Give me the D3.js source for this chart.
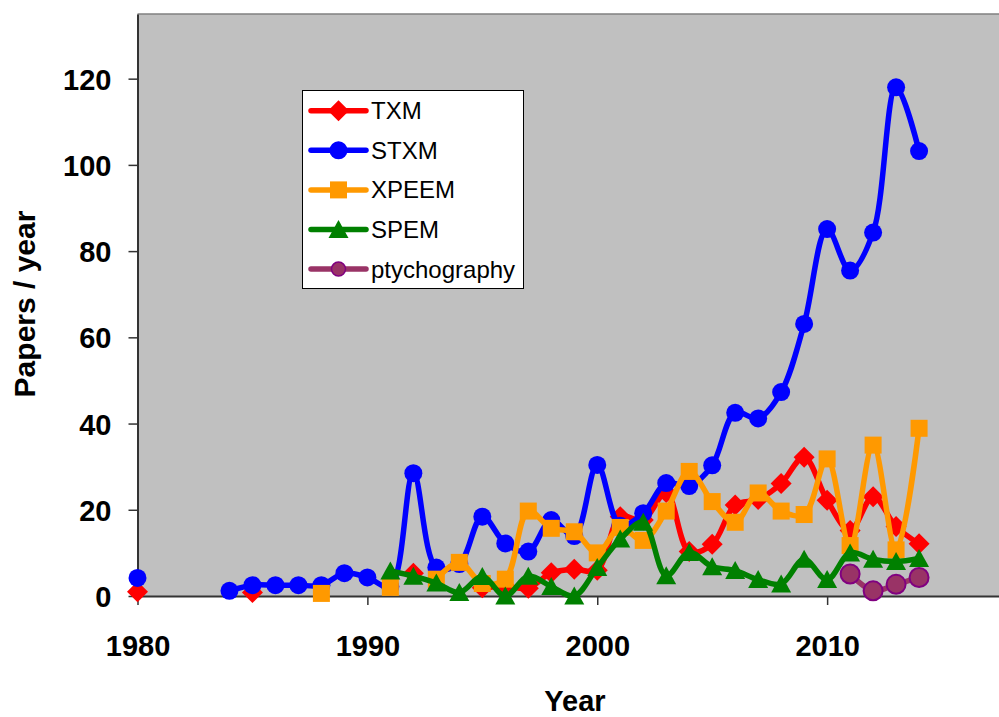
<!DOCTYPE html>
<html>
<head>
<meta charset="utf-8">
<script src="https://cdn.jsdelivr.net/npm/d3@7"></script>
<style>
  html, body { margin: 0; padding: 0; background: #ffffff; }
  svg { display: block; font-family: "Liberation Sans", Arial, sans-serif; }
</style>
</head>
<body>
<svg id="chart" width="999" height="717"></svg>
<script>
// ---------------- data ----------------
const years = d3.range(1980, 2015);
const xTicks = [1980, 1990, 2000, 2010];
const yTicks = [0, 20, 40, 60, 80, 100, 120];
const seriesNames = ["TXM", "STXM", "XPEEM", "SPEM", "ptychography"];

// values per year 1980..2014 (null = no point)
const txm = [1.0, null, null, null, null, 0.8, null, null, null, null,
             null, null, 5.3, null, null, 1.9, 2.2, 1.8, 5.4, 6.2,
             6.0, 18.4, 17.6, 24.0, 10.3, 12.0, 21.1, 22.4, 26.1, 32.2,
             22.2, 15.2, 23.0, 16.1, 12.1];
const stxm = [4.2, null, null, null, 1.2, 2.5, 2.5, 2.5, 2.5, 5.3,
              4.3, 2.2, 28.5, 6.6, 7.4, 18.4, 12.2, 10.3, 17.6, 13.9,
              30.4, 16.3, 19.2, 26.2, 25.5, 30.3, 42.5, 41.2, 47.3, 63.1,
              85.1, 75.5, 84.3, 118.0, 103.2];
const xpeem = [null, null, null, null, null, null, null, null, 0.6, null,
               null, 2.0, null, 3.9, 7.8, 2.9, 3.9, 19.7, 15.7, 14.9,
               10.0, 15.9, 12.9, 19.7, 28.9, 21.9, 17.1, 23.9, 19.7, 18.9,
               31.8, 11.7, 35.0, 10.7, 38.9];
const spem = [null, null, null, null, null, null, null, null, null, null,
              null, 5.8, 4.6, 3.0, 0.8, 4.5, 0.0, 4.6, 2.2, 0.0,
              6.6, 13.2, 17.1, 4.7, 10.1, 6.8, 5.9, 3.8, 2.8, 8.5,
              3.8, 10.0, 8.5, 8.0, 8.7];
const ptycho = [null, null, null, null, null, null, null, null, null, null,
                null, null, null, null, null, null, null, null, null, null,
                null, null, null, null, null, null, null, null, null, null,
                null, 5.1, 1.2, 2.7, 4.3];

// ---------------- styles ----------------
const styles = [
  { values: txm,    color: "#ff0000", fill: "#ff0000", stroke: "none",    marker: "diamond" },
  { values: stxm,   color: "#0000ff", fill: "#0000ff", stroke: "none",    marker: "circle" },
  { values: xpeem,  color: "#ff9900", fill: "#ff9900", stroke: "none",    marker: "square" },
  { values: spem,   color: "#008000", fill: "#008000", stroke: "none",    marker: "triangle" },
  { values: ptycho, color: "#993366", fill: "#993366", stroke: "#800080", marker: "bigcircle" }
];

const svg = d3.select("#chart");
const plot = { left: 137.5, top: 14, bottom: 596, right: 1057 };

const x = d3.scaleLinear().domain([1980, 2020]).range([plot.left, plot.right]);
const y = d3.scaleLinear().domain([0, 135]).range([plot.bottom, plot.top]);

// plot background
svg.append("rect")
  .attr("x", plot.left).attr("y", plot.top)
  .attr("width", plot.right - plot.left).attr("height", plot.bottom - plot.top)
  .attr("fill", "#c0c0c0");
svg.append("line")
  .attr("x1", plot.left).attr("x2", plot.right)
  .attr("y1", plot.top).attr("y2", plot.top)
  .attr("stroke", "#808080").attr("stroke-width", 1.5);

// axes
const xAxis = svg.append("g")
  .attr("transform", `translate(0,${plot.bottom})`)
  .call(d3.axisBottom(x).tickValues(xTicks).tickFormat(d3.format("d")).tickSize(9).tickSizeOuter(0));
const yAxis = svg.append("g")
  .attr("transform", `translate(${plot.left},0)`)
  .call(d3.axisLeft(y).tickValues(yTicks).tickSize(9).tickSizeOuter(0));

[xAxis, yAxis].forEach(g => {
  g.select(".domain").attr("stroke", "#333333").attr("stroke-width", 2);
  g.selectAll(".tick line").attr("stroke", "#333333").attr("stroke-width", 1.5);
  g.selectAll(".tick text")
    .attr("fill", "#000")
    .style("font-family", '"Liberation Sans", Arial, sans-serif')
    .style("font-size", "29px")
    .style("font-weight", "bold");
});
xAxis.selectAll(".tick text").attr("y", 60).attr("dy", "0");
yAxis.selectAll(".tick text").attr("x", -26).attr("dy", "0.36em");

// axis titles
svg.append("text")
  .attr("x", 575).attr("y", 711)
  .attr("text-anchor", "middle")
  .style("font-size", "29px").style("font-weight", "bold")
  .text("Year");
svg.append("text")
  .attr("transform", "translate(35,304) rotate(-90)")
  .attr("text-anchor", "middle")
  .style("font-size", "30px").style("font-weight", "bold")
  .text("Papers / year");

// marker drawing
function drawMarker(sel, type, fill, stroke) {
  if (type === "circle") {
    sel.append("circle").attr("r", 9).attr("fill", fill);
  } else if (type === "bigcircle") {
    sel.append("circle").attr("r", 9.5).attr("fill", fill)
      .attr("stroke", stroke).attr("stroke-width", 2);
  } else if (type === "diamond") {
    sel.append("path").attr("d", "M0,-10.5L10.5,0L0,10.5L-10.5,0Z").attr("fill", fill);
  } else if (type === "square") {
    sel.append("rect").attr("x", -8.5).attr("y", -8.5).attr("width", 17).attr("height", 17).attr("fill", fill);
  } else if (type === "triangle") {
    sel.append("path").attr("d", "M0,-9.5L10,8.5L-10,8.5Z").attr("fill", fill);
  }
}

const line = d3.line()
  .defined(d => d.v !== null)
  .x(d => x(d.year))
  .y(d => y(d.v))
  .curve(d3.curveCatmullRom.alpha(0.5));

styles.forEach(s => {
  const pts = years.map((yr, i) => ({ year: yr, v: s.values[i] }));
  const g = svg.append("g");
  g.append("path")
    .datum(pts)
    .attr("d", line)
    .attr("fill", "none")
    .attr("stroke", s.color)
    .attr("stroke-width", 5.5)
    .attr("stroke-linejoin", "round")
    .attr("stroke-linecap", "round");
  const m = g.selectAll("g.m")
    .data(pts.filter(d => d.v !== null))
    .join("g")
    .attr("class", "m")
    .attr("transform", d => `translate(${x(d.year)},${y(d.v)})`);
  m.each(function () { drawMarker(d3.select(this), s.marker, s.fill, s.stroke); });
});

// legend
const legend = svg.append("g");
legend.append("rect")
  .attr("x", 302.5).attr("y", 90.5).attr("width", 221).attr("height", 198)
  .attr("fill", "#ffffff").attr("stroke", "#000000").attr("stroke-width", 1);
seriesNames.forEach((name, i) => {
  const s = styles[i];
  const cy = 110.7 + i * 39.6;
  const item = legend.append("g");
  item.append("line")
    .attr("x1", 311).attr("x2", 366).attr("y1", cy).attr("y2", cy)
    .attr("stroke", s.color).attr("stroke-width", 5.5).attr("stroke-linecap", "round");
  const mg = item.append("g").attr("transform", `translate(338.5,${cy})`);
  drawMarker(mg, s.marker === "bigcircle" ? "circle" : s.marker, s.fill, s.stroke);
  if (s.marker === "bigcircle") {
    mg.select("circle").attr("r", 7).attr("stroke", s.stroke).attr("stroke-width", 1.5);
  }
  item.append("text")
    .attr("x", 371).attr("y", cy + 8.5)
    .style("font-size", "24px")
    .attr("fill", "#000")
    .text(name);
});
</script>
</body>
</html>
